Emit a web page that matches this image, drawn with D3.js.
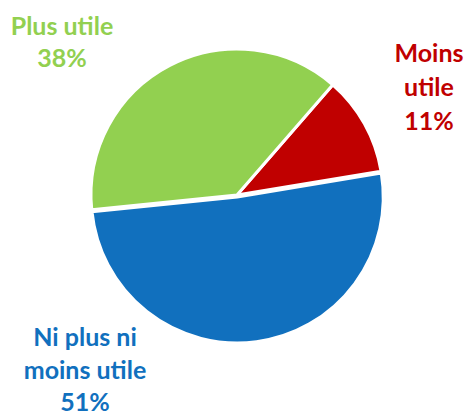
<!DOCTYPE html>
<html>
<head>
<meta charset="utf-8">
<script src="https://cdn.jsdelivr.net/npm/d3@7"></script>
<style>
body { margin: 0; background: #fff; }
svg { display: block; }
.label { font-family: Lato, "Open Sans", sans-serif; font-weight: bold; font-size: 25px; text-anchor: middle; }
</style>
</head>
<body>
<svg width="466" height="417"></svg>
<script>
const categories = ["Moins utile", "Ni plus ni moins utile", "Plus utile"];
const values = [11, 51, 38];
const colors = ["#c00000", "#1170be", "#92d050"];
// label lines for each slice
const labelLines = [["Moins", "utile", "11%"], ["Ni plus ni", "moins utile", "51%"], ["Plus utile", "38%"]];
const labelPos = [[429, 62], [85, 346], [62, 35]];

const svg = d3.select("svg");
const cx = 237, cy = 195, r = 146;

const pie = d3.pie()
    .sort(null)
    .startAngle(41 * Math.PI / 180)
    .endAngle(41 * Math.PI / 180 + 2 * Math.PI);
const arcs = pie(values);
const arc = d3.arc().innerRadius(0).outerRadius(r);

const g = svg.append('g')
    .attr('transform', `translate(${cx}, ${cy})`);

g.selectAll('path')
    .data(arcs)
    .enter()
    .append('path')
    .attr('d', arc)
    .attr('fill', (d, i) => colors[i])
    .attr('stroke', '#fff')
    .attr('stroke-width', 3)
    .attr('stroke-linejoin', 'miter')
    .attr('transform', (d, i) => {
        // blue slice pulled out a bit
        if (i !== 1) return null;
        const a = (d.startAngle + d.endAngle) / 2;
        return `translate(${Math.sin(a) * 2}, ${-Math.cos(a) * 2})`;
    });

labelLines.forEach((lines, i) => {
    const t = svg.append('text')
        .attr('class', 'label')
        .attr('fill', colors[i])
        .attr('x', labelPos[i][0])
        .attr('y', labelPos[i][1]);
    lines.forEach((l, j) => {
        t.append('tspan')
            .attr('x', labelPos[i][0])
            .attr('dy', j === 0 ? 0 : (i === 2 ? 32 : (i === 1 ? 32.5 : 34)))
            .text(l);
    });
});
</script>
</body>
</html>
